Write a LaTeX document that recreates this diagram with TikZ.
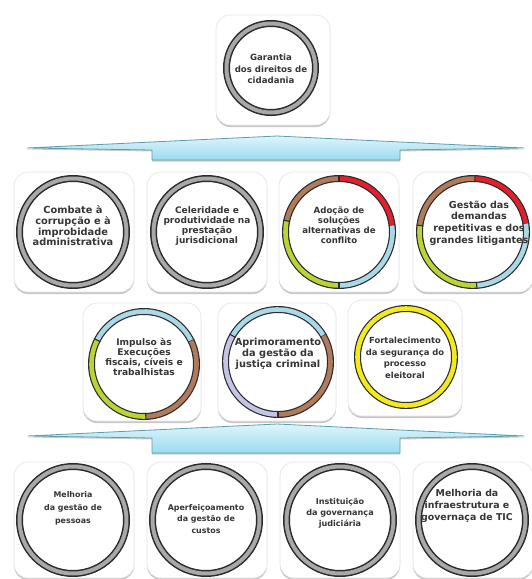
\documentclass[tikz,border=0pt]{standalone}
\usepackage{fontspec}
\setmainfont{DejaVu Sans}
\usetikzlibrary{shadows}
\definecolor{ringdark}{HTML}{2B2B2B}
\definecolor{ringgrey}{HTML}{A8A8A8}
\definecolor{segred}{HTML}{E21F2D}
\definecolor{segblue}{HTML}{A9D8E6}
\definecolor{seggreen}{HTML}{B8D435}
\definecolor{segbrown}{HTML}{B07A5C}
\definecolor{seglav}{HTML}{C6C4E6}
\definecolor{segyellow}{HTML}{F2EA1C}
\definecolor{txt}{HTML}{353535}
\definecolor{bannerline}{HTML}{5E9DAC}
\definecolor{bannertop}{HTML}{DDF5FC}
\definecolor{bannerbot}{HTML}{9BDBEE}
\definecolor{boxline}{HTML}{E4E4E4}
\newcommand\greyring[2]{%
  \draw[ringdark,line width=7] (#1) circle[radius=#2];
  \draw[ringgrey,line width=4] (#1) circle[radius=#2];}
\newcommand\colring[3]{%
  \begin{scope}[shift={(#1)},yscale=-1]
    \draw[ringdark,line width=7] (0,0) circle[radius=#2];
    \foreach \c/\p/\q in {#3} {
      \draw[line width=4.6,\c] (\p:#2) arc[start angle=\p,end angle=\q,radius=#2];
      \draw[ringdark,line width=1.1] (\p:#2-3.5) -- (\p:#2+3.5);
    }
  \end{scope}}
\tikzset{
  box/.style={draw=boxline,fill=white,rounded corners=14pt,line width=0.6pt,
    drop shadow={shadow xshift=0pt,shadow yshift=-2pt,opacity=0.22,fill=black}},
  lbl/.style={align=center,text=txt,inner sep=0pt},
  fs/.style 2 args={font=\bfseries\fontsize{#1}{#2}\selectfont},
  banner/.style={draw=bannerline,line width=0.8pt,top color=bannertop,bottom color=bannerbot,
    drop shadow={shadow xshift=0pt,shadow yshift=-1.5pt,opacity=0.2,fill=black}}
}
\begin{document}
\begin{tikzpicture}[x=1pt,y=-1pt]
\useasboundingbox[fill=white] (0,0) rectangle (531,579);
% top
\node[box,minimum width=114pt,minimum height=110pt] (g0) at (273,70) {};
\greyring{271,68}{44.5}
\node[lbl,fs={8.6}{11.5}] (g0t) at (271,69) {Garantia\\dos direitos de\\cidadania};
% banner 1
\draw[banner] (27,148) -- (277,136) -- (524,148) -- (400,150) -- (400,160) -- (152,160) -- (152,150) -- cycle;
% row 2
\node[box,minimum width=120pt,minimum height=120pt] (a1) at (74,232) {};
\node[box,minimum width=120pt,minimum height=120pt] (a2) at (207,232) {};
\node[box,minimum width=120pt,minimum height=120pt] (a3) at (339,232) {};
\node[box,minimum width=120pt,minimum height=120pt] (a4) at (473,232) {};
\greyring{73,232}{53.5}
\greyring{207,232}{53.5}
\colring{339,232}{53.5}{segred/7/90, segbrown/90/168, seggreen/168/270, segblue/270/367}
\colring{473,232}{53.5}{segred/9/88, segbrown/88/173, seggreen/173/274, segblue/274/369}
\node[lbl,fs={9.8}{10.7}] (a1t) at (73,226) {Combate à\\corrupção e à\\improbidade\\administrativa};
\node[lbl,fs={9}{10}] (a2t) at (207,226) {Celeridade e\\produtividade na\\prestação\\jurisdicional};
\node[lbl,fs={8.6}{10}] (a3t) at (339,225) {Adoção de\\soluções\\alternativas de\\conflito};
\node[lbl,fs={9.6}{11.8}] (a4t) at (479,223) {Gestão das\\demandas\\repetitivas e dos\\grandes litigantes};
% row 3
\node[box,minimum width=118pt,minimum height=118pt] (b1) at (142,362) {};
\node[box,minimum width=118pt,minimum height=118pt] (b2) at (277,362) {};
\node[box,minimum width=114pt,minimum height=116pt] (b3) at (405,358) {};
\colring{144,364}{52.5}{segblue/26/153, seggreen/153/272, segbrown/272/386}
\colring{278,362}{52.5}{segblue/30/150, seglav/150/270, segbrown/270/390}
\draw[ringdark,line width=7] (406,357) circle[radius=48.5];
\draw[segyellow,line width=4.6] (406,357) circle[radius=48.5];
\node[lbl,fs={9.1}{9.9}] (b1t) at (144,357) {Impulso às\\Execuções\\fiscais, cíveis e\\trabalhistas};
\node[lbl,fs={9.8}{11}] (b2t) at (278,354) {Aprimoramento\\da gestão da\\justiça criminal};
\node[lbl,fs={8.4}{11.6}] (b3t) at (405,358) {Fortalecimento\\da segurança do\\processo\\eleitoral};
% banner 2
\draw[banner] (28,436) -- (277,424) -- (524,436) -- (400,438) -- (400,453) -- (152,453) -- (152,438) -- cycle;
% row 4
\node[box,minimum width=120pt,minimum height=116pt] (d1) at (74,520) {};
\node[box,minimum width=120pt,minimum height=116pt] (d2) at (207,520) {};
\node[box,minimum width=120pt,minimum height=116pt] (d3) at (340,520) {};
\node[box,minimum width=120pt,minimum height=116pt] (d4) at (473,520) {};
\greyring{73,520}{53.5}
\greyring{206,520}{53.5}
\greyring{340,520}{53.5}
\greyring{472,520}{53.5}
\node[lbl,fs={7.9}{13}] (d1t) at (73,508) {Melhoria\\da gestão de\\pessoas};
\node[lbl,fs={7.9}{11.7}] (d2t) at (206,519) {Aperfeiçoamento\\da gestão de\\custos};
\node[lbl,fs={8.1}{10.8}] (d3t) at (340,513) {Instituição\\da governança\\judiciária};
\node[lbl,fs={9.4}{11.7}] (d4t) at (467,506) {Melhoria da\\infraestrutura e\\governaça de TIC};
\end{tikzpicture}
\end{document}
